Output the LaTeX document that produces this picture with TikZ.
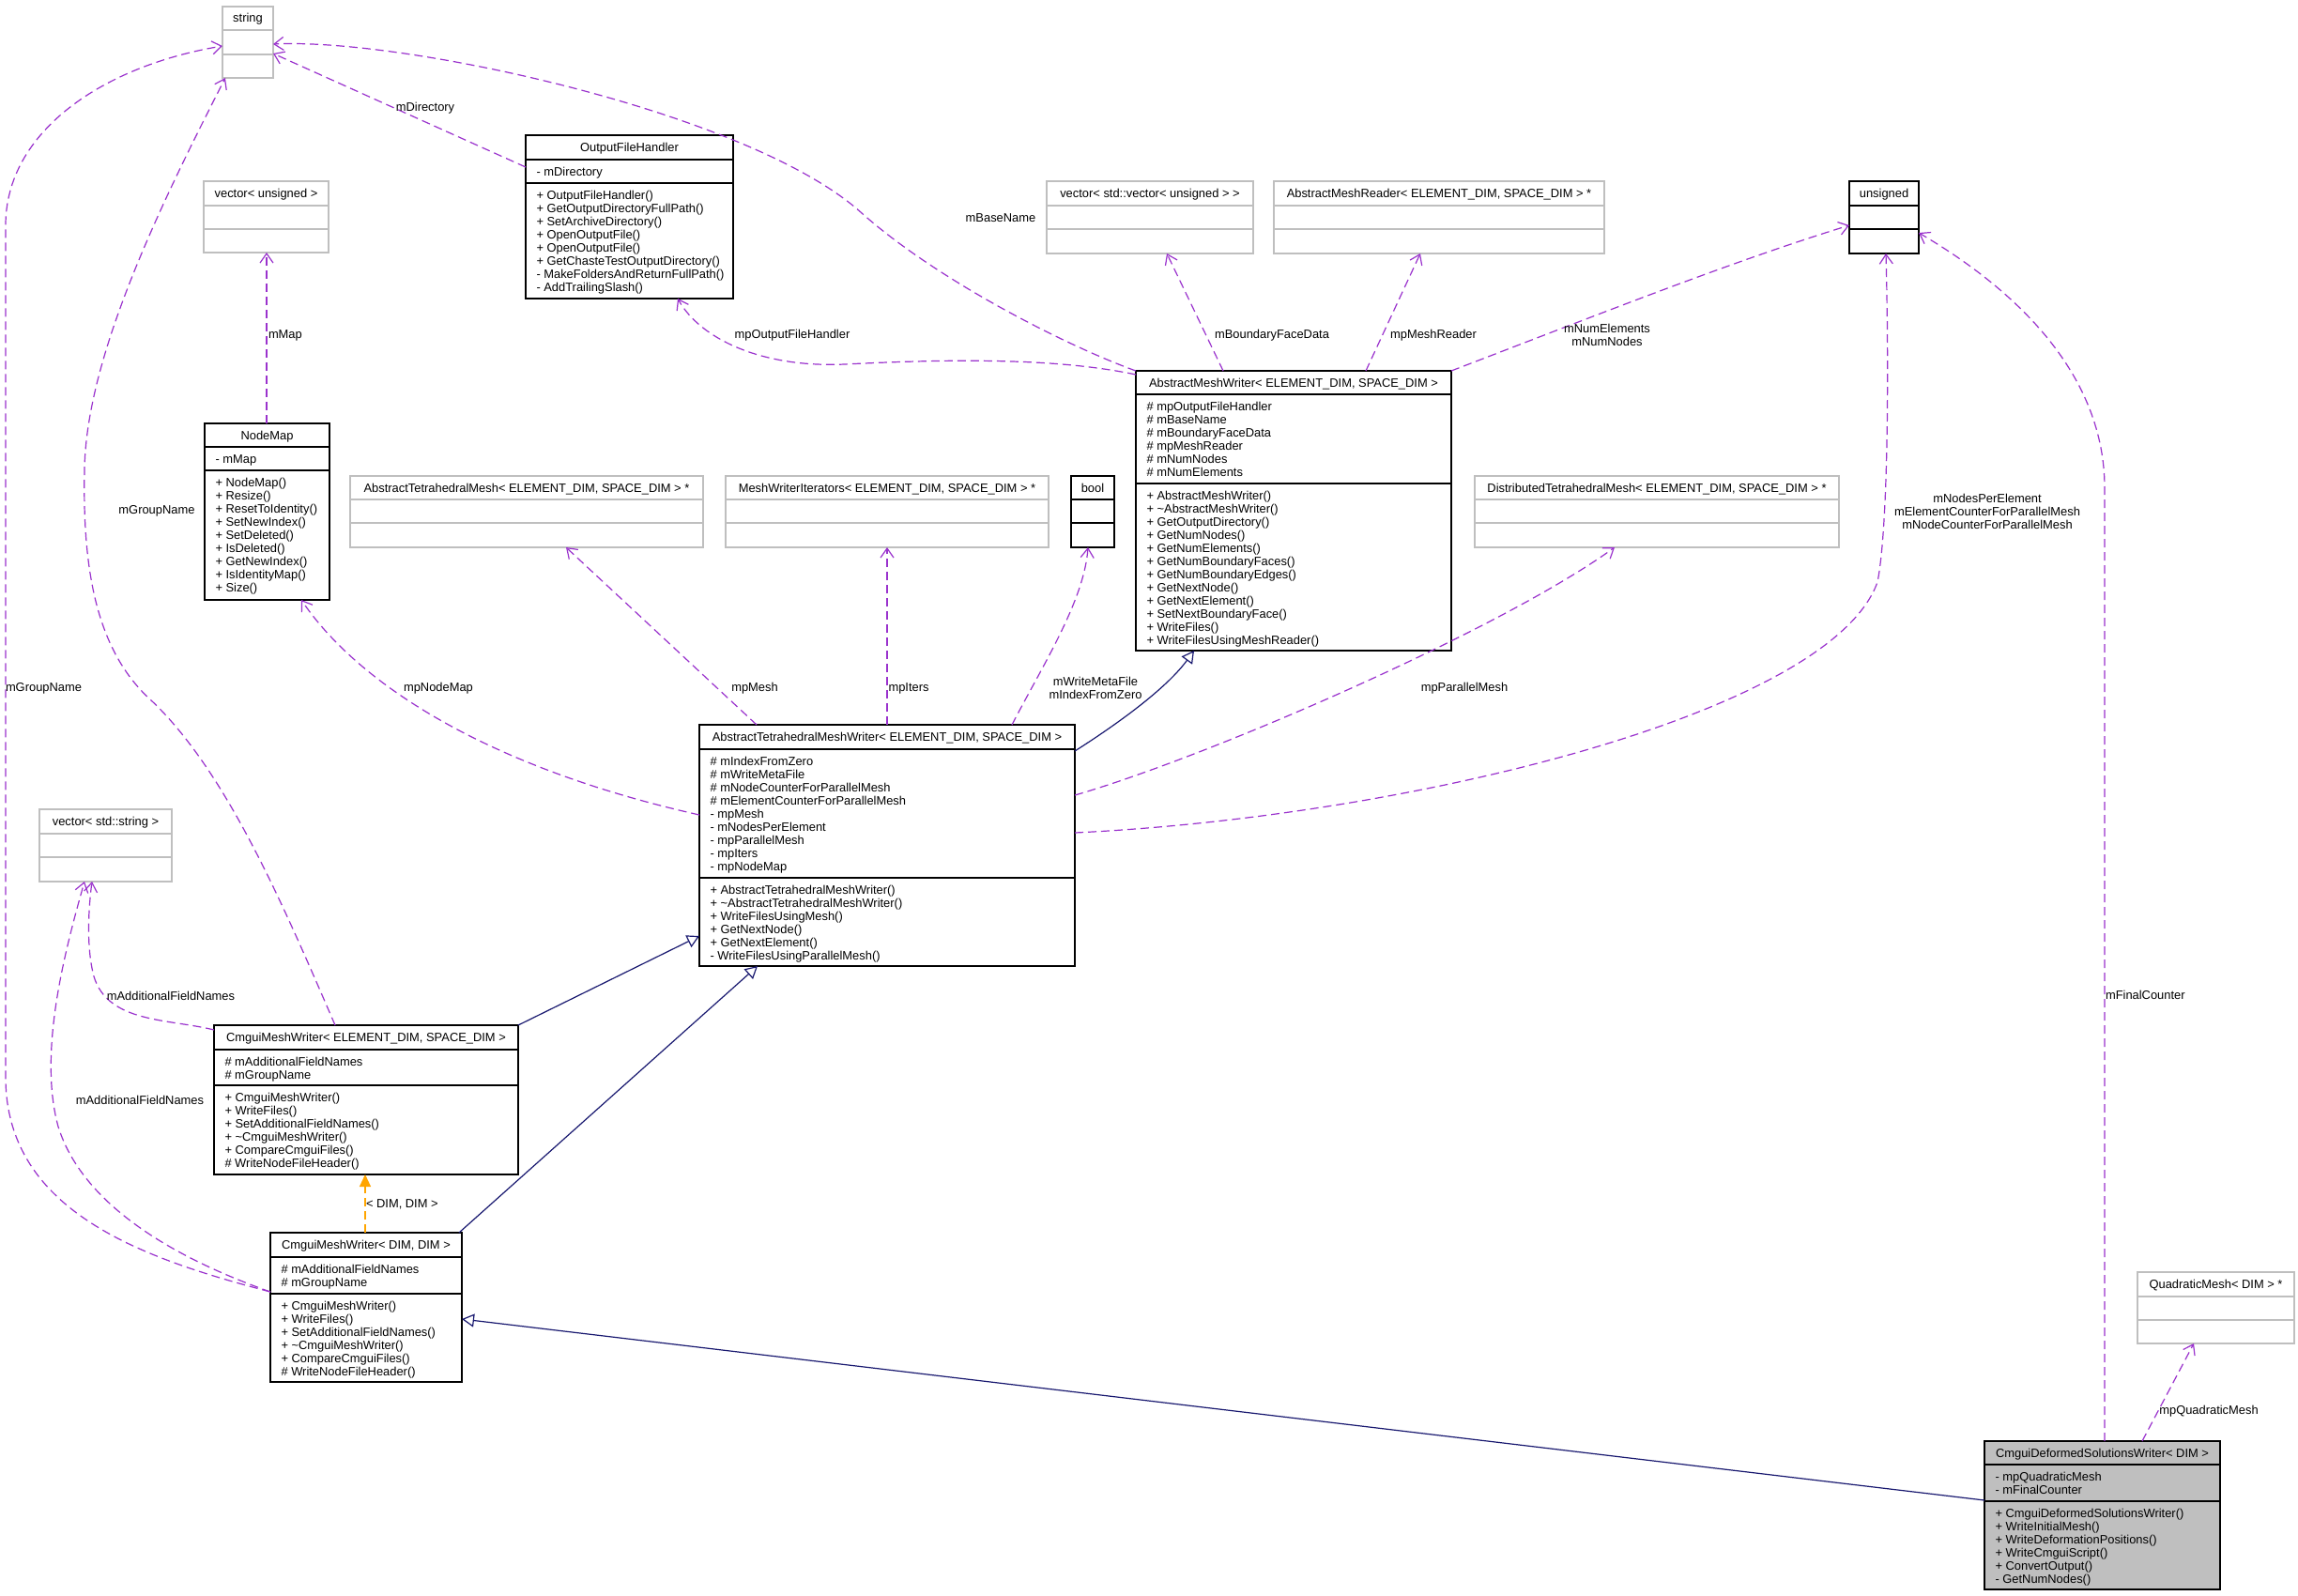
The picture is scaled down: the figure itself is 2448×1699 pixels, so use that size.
\documentclass[tikz,border=0pt]{standalone}
\usepackage{fontspec}
\setmainfont{Liberation Sans}
\usetikzlibrary{arrows.meta}
\definecolor{gbd}{HTML}{BFBFBF}
\definecolor{usec}{HTML}{9A32CD}
\definecolor{inhc}{HTML}{191970}
\definecolor{tplc}{HTML}{FFA500}
\newcommand\fsz{\fontsize{12.9}{14}\selectfont}
\newcommand\ml[1]{\vtop{\baselineskip=14pt\lineskiplimit=-100pt\lineskip=0pt\halign{##\hfil\cr#1\crcr}}}
\newcommand\mlc[1]{\vtop{\baselineskip=14pt\lineskiplimit=-100pt\lineskip=0pt\halign{\hfil##\hfil\cr#1\crcr}}}
\tikzset{
 txt/.style={inner sep=0pt, outer sep=0pt, font=\fsz},
 lbl/.style={inner sep=0pt, outer sep=0pt, font=\fsz},
 gb/.style={draw=gbd, fill=white, line width=1.3pt, inner sep=0pt, outer sep=0pt},
 bb/.style={draw=black, fill=white, line width=1.3pt, inner sep=0pt, outer sep=0pt},
 fb/.style={draw=black, fill=gbd, line width=1.3pt, inner sep=0pt, outer sep=0pt},
 usage/.style={draw=usec, line width=1.2pt, dash pattern=on 9pt off 5pt, -{Straight Barb[length=10pt,width=14pt]}},
 inh/.style={draw=inhc, line width=1.2pt, -{Triangle[length=13pt,width=14pt,fill=white]}},
 tpl/.style={draw=tplc, line width=1.2pt, dash pattern=on 9pt off 5pt, -{Triangle[length=13pt,width=12pt,fill=tplc]}},
}
% name x y w h1 h2 h3 style title
\newcommand\cbox[9]{%
 \node[#8, anchor=north west, minimum width=#4pt, minimum height={#5pt+#6pt+#7pt}] (#1) at (#2,#3) {};
 \draw[#8] (#2,{#3+#5}) -- ++(#4,0);
 \draw[#8] (#2,{#3+#5+#6}) -- ++(#4,0);
 \node[txt, anchor=base] at ({#2+#4/2},{#3+#5/2+4.5}) {#9};
}
% x ytop lines
\newcommand\members[3]{%
 \node[txt, anchor=base west] at ({#1+11.5},{#2+17.5}) {\ml{#3}};
}
\begin{document}
\begin{tikzpicture}[x=1pt,y=-1pt]
\useasboundingbox (0,0) rectangle (2448,1699);
\fill[white] (0,0) rectangle (2448,1699);

\cbox{string}{237}{7}{54}{25}{26}{25}{gb}{string}
\cbox{vecu}{217}{193}{133}{26}{25}{25}{gb}{vector< unsigned >}

\cbox{ofh}{560}{144}{221}{26}{25}{123}{bb}{OutputFileHandler}
\members{560}{170}{- mDirectory}
\members{560}{195}{+ OutputFileHandler()\cr + GetOutputDirectoryFullPath()\cr + SetArchiveDirectory()\cr + OpenOutputFile()\cr + OpenOutputFile()\cr + GetChasteTestOutputDirectory()\cr - MakeFoldersAndReturnFullPath()\cr - AddTrailingSlash()}

\cbox{nodemap}{218}{451}{133}{25}{25}{138}{bb}{NodeMap}
\members{218}{476}{- mMap}
\members{218}{501}{+ NodeMap()\cr + Resize()\cr + ResetToIdentity()\cr + SetNewIndex()\cr + SetDeleted()\cr + IsDeleted()\cr + GetNewIndex()\cr + IsIdentityMap()\cr + Size()}

\cbox{vecvec}{1115}{193}{220}{26}{25}{26}{gb}{vector< std::vector< unsigned > >}
\cbox{amr}{1357}{193}{352}{26}{25}{26}{gb}{AbstractMeshReader< ELEMENT\_DIM, SPACE\_DIM > *}
\cbox{unsigned}{1970}{193}{74}{26}{25}{26}{bb}{unsigned}

\cbox{amw}{1210}{395}{336}{25}{95}{178}{bb}{AbstractMeshWriter< ELEMENT\_DIM, SPACE\_DIM >}
\members{1210}{420}{\# mpOutputFileHandler\cr \# mBaseName\cr \# mBoundaryFaceData\cr \# mpMeshReader\cr \# mNumNodes\cr \# mNumElements}
\members{1210}{515}{+ AbstractMeshWriter()\cr + \textasciitilde AbstractMeshWriter()\cr + GetOutputDirectory()\cr + GetNumNodes()\cr + GetNumElements()\cr + GetNumBoundaryFaces()\cr + GetNumBoundaryEdges()\cr + GetNextNode()\cr + GetNextElement()\cr + SetNextBoundaryFace()\cr + WriteFiles()\cr + WriteFilesUsingMeshReader()}

\cbox{atm}{373}{507}{376}{25}{25}{26}{gb}{AbstractTetrahedralMesh< ELEMENT\_DIM, SPACE\_DIM > *}
\cbox{mwi}{773}{507}{344}{25}{25}{26}{gb}{MeshWriterIterators< ELEMENT\_DIM, SPACE\_DIM > *}
\cbox{bool}{1141}{507}{46}{25}{25}{26}{bb}{bool}
\cbox{dtm}{1571}{507}{388}{25}{25}{26}{gb}{DistributedTetrahedralMesh< ELEMENT\_DIM, SPACE\_DIM > *}

\cbox{atmw}{745}{772}{400}{26}{137}{94}{bb}{AbstractTetrahedralMeshWriter< ELEMENT\_DIM, SPACE\_DIM >}
\members{745}{798}{\# mIndexFromZero\cr \# mWriteMetaFile\cr \# mNodeCounterForParallelMesh\cr \# mElementCounterForParallelMesh\cr - mpMesh\cr - mNodesPerElement\cr - mpParallelMesh\cr - mpIters\cr - mpNodeMap}
\members{745}{935}{+ AbstractTetrahedralMeshWriter()\cr + \textasciitilde AbstractTetrahedralMeshWriter()\cr + WriteFilesUsingMesh()\cr + GetNextNode()\cr + GetNextElement()\cr - WriteFilesUsingParallelMesh()}

\cbox{vecs}{42}{862}{141}{26}{25}{26}{gb}{vector< std::string >}

\cbox{cmwes}{228}{1092}{324}{26}{38}{95}{bb}{CmguiMeshWriter< ELEMENT\_DIM, SPACE\_DIM >}
\members{228}{1118}{\# mAdditionalFieldNames\cr \# mGroupName}
\members{228}{1156}{+ CmguiMeshWriter()\cr + WriteFiles()\cr + SetAdditionalFieldNames()\cr + \textasciitilde CmguiMeshWriter()\cr + CompareCmguiFiles()\cr \# WriteNodeFileHeader()}

\cbox{cmwdd}{288}{1313}{204}{26}{39}{94}{bb}{CmguiMeshWriter< DIM, DIM >}
\members{288}{1339}{\# mAdditionalFieldNames\cr \# mGroupName}
\members{288}{1378}{+ CmguiMeshWriter()\cr + WriteFiles()\cr + SetAdditionalFieldNames()\cr + \textasciitilde CmguiMeshWriter()\cr + CompareCmguiFiles()\cr \# WriteNodeFileHeader()}

\cbox{qm}{2277}{1355}{167}{26}{25}{25}{gb}{QuadraticMesh< DIM > *}

\cbox{cdsw}{2114}{1535}{251}{25}{39}{94}{fb}{CmguiDeformedSolutionsWriter< DIM >}
\members{2114}{1560}{- mpQuadraticMesh\cr - mFinalCounter}
\members{2114}{1599}{+ CmguiDeformedSolutionsWriter()\cr + WriteInitialMesh()\cr + WriteDeformationPositions()\cr + WriteCmguiScript()\cr + ConvertOutput()\cr - GetNumNodes()}

% connectors
\draw[usage] (ofh.west |- 0,178) -- (string.east |- 0,57);
\draw[usage] (amw.north west) .. controls (1140,370) and (1000,300) .. (918,227) .. controls (800,120) and (430,40) .. (string.east |- 0,47);
\draw[usage] (amw.west |- 0,399) .. controls (1120,380) and (1000,383) .. (900,388) .. controls (810,392) and (745,360) .. (722,0 |- ofh.south);
\draw[usage] (1303,0 |- amw.north) -- (1243,0 |- vecvec.south);
\draw[usage] (1455,0 |- amw.north) -- (1513,0 |- amr.south);
\draw[usage] (amw.north east) .. controls (1690,340) and (1840,280) .. (unsigned.west |- 0,240);
\draw[usage] (atmw.west |- 0,868) .. controls (513,816) and (379,725) .. (321,0 |- nodemap.south);
\draw[usage] (806,0 |- atmw.north) -- (603,0 |- atm.south);
\draw[usage] (945,0 |- atmw.north) -- (945,0 |- mwi.south);
\draw[usage] (1078,0 |- atmw.north) .. controls (1110,710) and (1155,640) .. (1159,0 |- bool.south);
\draw[inh] (atmw.east |- 0,800) .. controls (1200,765) and (1245,730) .. (1272,0 |- amw.south);
\draw[usage] (atmw.east |- 0,847) .. controls (1290,805) and (1600,670) .. (1720,0 |- dtm.south);
\draw[usage] (atmw.east |- 0,887) .. controls (1500,870) and (1950,760) .. (2000,620) .. controls (2012,560) and (2012,380) .. (2009,0 |- unsigned.south);
\draw[usage] (2242,0 |- cdsw.north) -- (2242,520) .. controls (2242,400) and (2150,310) .. (unsigned.east |- 0,248);
\draw[usage] (2282,0 |- cdsw.north) -- (2337,0 |- qm.south);
\draw[inh] (cdsw.west |- 0,1598) -- (cmwdd.east |- 0,1405);
\draw[tpl] (389,0 |- cmwdd.north) -- (389,0 |- cmwes.south);
\draw[inh] (489,0 |- cmwdd.north) -- (807,0 |- atmw.south);
\draw[inh] (cmwes.north east) -- (atmw.west |- 0,997);
\draw[usage] (357,0 |- cmwes.north) .. controls (300,960) and (240,820) .. (160,745) .. controls (100,690) and (88,600) .. (90,500) .. controls (92,380) and (170,220) .. (240,0 |- string.south);
\draw[usage] (cmwdd.west |- 0,1376) .. controls (150,1340) and (8,1290) .. (6,1150) -- (6,240) .. controls (6,140) and (110,70) .. (string.west |- 0,49);
\draw[usage] (cmwes.west |- 0,1097) .. controls (180,1085) and (115,1090) .. (100,1040) .. controls (92,1010) and (94,970) .. (98,0 |- vecs.south);
\draw[usage] (cmwdd.west |- 0,1376) .. controls (200,1345) and (90,1290) .. (62,1200) .. controls (40,1120) and (70,1010) .. (90,0 |- vecs.south);
\draw[usage] (284,0 |- nodemap.north) -- (284,0 |- vecu.south);

% labels
\node[lbl] (l1) at (453,115) {mDirectory};
\node[lbl] (l2) at (1066,232) {mBaseName};
\node[lbl] (l3) at (844,357) {mpOutputFileHandler};
\node[lbl] (l4) at (1355,357) {mBoundaryFaceData};
\node[lbl] (l5) at (1527,357) {mpMeshReader};
\node[lbl] (l6) at (1712,357) {\mlc{mNumElements\cr mNumNodes}};
\node[lbl, anchor=west] (l7) at (286,357) {mMap};
\node[lbl] (l8) at (167,544) {mGroupName};
\node[lbl, anchor=west] (l9) at (6,733) {mGroupName};
\node[lbl] (l10) at (467,733) {mpNodeMap};
\node[lbl] (l11) at (804,733) {mpMesh};
\node[lbl] (l12) at (968,733) {mpIters};
\node[lbl] (l13) at (1167,733) {\mlc{mWriteMetaFile\cr mIndexFromZero}};
\node[lbl] (l14) at (1560,733) {mpParallelMesh};
\node[lbl] (l15) at (2117,545) {\mlc{mNodesPerElement\cr mElementCounterForParallelMesh\cr mNodeCounterForParallelMesh}};
\node[lbl, anchor=west] (l16) at (2243,1060) {mFinalCounter};
\node[lbl] (l17) at (182,1061) {mAdditionalFieldNames};
\node[lbl] (l18) at (149,1172) {mAdditionalFieldNames};
\node[lbl, anchor=west] (l19) at (390,1283) {< DIM, DIM >};
\node[lbl] (l20) at (2353,1503) {mpQuadraticMesh};
\end{tikzpicture}
\end{document}
